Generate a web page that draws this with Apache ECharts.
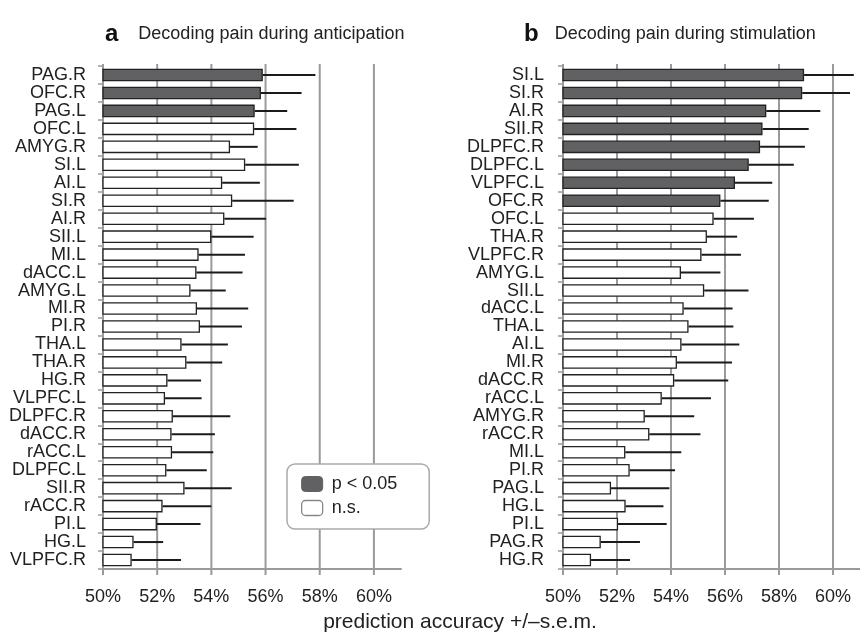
<!DOCTYPE html>
<html>
<head>
<meta charset="utf-8">
<script src="https://cdn.jsdelivr.net/npm/echarts@6/dist/echarts.min.js"></script>
<style>
  html, body { margin: 0; padding: 0; background: #fff; }
  #chart { width: 860px; height: 632px; }
</style>
</head>
<body>
<div id="chart"></div>
<script>
// panel a: anticipation
const regionsA = ["PAG.R", "OFC.R", "PAG.L", "OFC.L", "AMYG.R", "SI.L", "AI.L", "SI.R", "AI.R", "SII.L",
  "MI.L", "dACC.L", "AMYG.L", "MI.R", "PI.R", "THA.L", "THA.R", "HG.R", "VLPFC.L", "DLPFC.R",
  "dACC.R", "rACC.L", "DLPFC.L", "SII.R", "rACC.R", "PI.L", "HG.L", "VLPFC.R"];
const accA = [55.90, 55.83, 55.60, 55.58, 54.69, 55.25, 54.40, 54.77, 54.48, 54.00,
  53.53, 53.45, 53.23, 53.47, 53.58, 52.90, 53.08, 52.38, 52.29, 52.58,
  52.53, 52.55, 52.34, 53.01, 52.20, 51.99, 51.13, 51.06];
const semA = [1.94, 1.50, 1.20, 1.56, 1.02, 1.98, 1.39, 2.27, 1.54, 1.56,
  1.71, 1.70, 1.30, 1.89, 1.55, 1.71, 1.32, 1.24, 1.35, 2.12,
  1.60, 1.52, 1.49, 1.74, 1.80, 1.61, 1.09, 1.82];
const sigA = [1, 1, 1, 0, 0, 0, 0, 0, 0, 0, 0, 0, 0, 0, 0, 0, 0, 0, 0, 0, 0, 0, 0, 0, 0, 0, 0, 0];

// panel b: stimulation
const regionsB = ["SI.L", "SI.R", "AI.R", "SII.R", "DLPFC.R", "DLPFC.L", "VLPFC.L", "OFC.R", "OFC.L", "THA.R",
  "VLPFC.R", "AMYG.L", "SII.L", "dACC.L", "THA.L", "AI.L", "MI.R", "dACC.R", "rACC.L", "AMYG.R",
  "rACC.R", "MI.L", "PI.R", "PAG.L", "HG.L", "PI.L", "PAG.R", "HG.R"];
const accB = [58.93, 58.86, 57.53, 57.39, 57.30, 56.88, 56.37, 55.83, 55.58, 55.33,
  55.13, 54.37, 55.23, 54.47, 54.65, 54.39, 54.22, 54.12, 53.66, 53.03,
  53.20, 52.31, 52.47, 51.78, 52.32, 52.04, 51.40, 51.04];
const semB = [1.84, 1.77, 2.00, 1.71, 1.66, 1.67, 1.38, 1.79, 1.49, 1.12,
  1.46, 1.46, 1.64, 1.81, 1.66, 2.14, 2.04, 2.00, 1.82, 1.83,
  1.89, 2.07, 1.68, 2.16, 1.40, 1.80, 1.45, 1.44];
const sigB = [1, 1, 1, 1, 1, 1, 1, 1, 0, 0, 0, 0, 0, 0, 0, 0, 0, 0, 0, 0, 0, 0, 0, 0, 0, 0, 0, 0];

const xTicks = [50, 52, 54, 56, 58, 60];

const FONT = "'Liberation Sans', Arial, sans-serif";
const DARK = "#616163";
const GRAY = "#9a9a9a";

function xAxisFor(idx) {
  return {
    type: "value",
    gridIndex: idx,
    min: 50,
    max: 61,
    interval: 2,
    axisLine: { show: true, lineStyle: { color: GRAY, width: 2 } },
    axisTick: { show: false },
    axisLabel: {
      customValues: xTicks,
      formatter: (v) => v + "%",
      fontFamily: FONT, fontSize: 18, color: "#222", margin: 19
    },
    splitLine: { show: false }
  };
}

function yAxisFor(idx, names, margin) {
  return {
    type: "category",
    gridIndex: idx,
    data: names,
    inverse: true,
    axisLine: { show: true, lineStyle: { color: GRAY, width: 2 } },
    axisTick: { show: true, length: 5, lineStyle: { color: GRAY, width: 1.5 } },
    axisLabel: { fontFamily: FONT, fontSize: 18, color: "#222", margin: margin, interval: 0 }
  };
}

// vertical grid lines (with a short tick below the axis) at each tick value
function gridLinesFor(idx) {
  return {
    type: "custom",
    xAxisIndex: idx,
    yAxisIndex: idx,
    z: 1,
    silent: true,
    clip: false,
    encode: { x: 0 },
    data: xTicks.map((v) => [v]),
    renderItem: function (params, api) {
      const cs = params.coordSys;
      const x = api.coord([api.value(0), 0])[0];
      return {
        type: "line",
        shape: { x1: x, y1: cs.y - 2, x2: x, y2: cs.y + cs.height + 6 },
        style: { stroke: GRAY, lineWidth: 2 }
      };
    }
  };
}

function barsFor(idx, acc, sig) {
  const common = {
    type: "bar",
    xAxisIndex: idx,
    yAxisIndex: idx,
    barGap: "-100%",
    barCategoryGap: "30%",
    z: 2
  };
  return [
    Object.assign({}, common, {
      name: "p < 0.05",
      itemStyle: { color: DARK, borderColor: "#222", borderWidth: 1.3 },
      data: acc.map((v, i) => (sig[i] ? v : "-"))
    }),
    Object.assign({}, common, {
      name: "n.s.",
      itemStyle: { color: "#fff", borderColor: "#222", borderWidth: 1.3 },
      data: acc.map((v, i) => (sig[i] ? "-" : v))
    })
  ];
}

function errFor(idx, acc, sem) {
  return {
    type: "custom",
    xAxisIndex: idx,
    yAxisIndex: idx,
    z: 3,
    silent: true,
    encode: { x: [0, 1], y: 2 },
    data: acc.map((v, i) => [v, v + sem[i], i]),
    renderItem: function (params, api) {
      const p0 = api.coord([api.value(0), api.value(2)]);
      const p1 = api.coord([api.value(1), api.value(2)]);
      return {
        type: "line",
        shape: { x1: p0[0], y1: p0[1], x2: p1[0], y2: p1[1] },
        style: { stroke: "#1a1a1a", lineWidth: 2 }
      };
    }
  };
}

const chart = echarts.init(document.getElementById("chart"), null, { renderer: "canvas" });

chart.setOption({
  animation: false,
  backgroundColor: "#fff",
  title: [
    {
      left: 100, top: 17,
      text: "{b|a}{t|Decoding pain during anticipation}",
      textStyle: {
        fontWeight: "normal",
        rich: {
          b: { fontFamily: FONT, fontSize: 24, fontWeight: "bold", color: "#111", padding: [0, 20, 0, 0] },
          t: { fontFamily: FONT, fontSize: 18, fontWeight: "normal", color: "#222" }
        }
      }
    },
    {
      left: 519, top: 17,
      text: "{b|b}{t|Decoding pain during stimulation}",
      textStyle: {
        fontWeight: "normal",
        rich: {
          b: { fontFamily: FONT, fontSize: 24, fontWeight: "bold", color: "#111", padding: [0, 16, 0, 0] },
          t: { fontFamily: FONT, fontSize: 18, fontWeight: "normal", color: "#222" }
        }
      }
    }
  ],
  legend: {
    orient: "vertical",
    left: 287,
    top: 464,
    padding: [11, 32, 12, 14],
    itemGap: 6,
    itemWidth: 21,
    itemHeight: 15,
    icon: "roundRect",
    backgroundColor: "#fff",
    borderColor: "#aaa",
    borderWidth: 1.5,
    borderRadius: 8,
    textStyle: { fontFamily: FONT, fontSize: 18, color: "#222", padding: [0, 0, 0, 4] },
    data: [
      { name: "p < 0.05", itemStyle: { color: DARK, borderColor: DARK, borderWidth: 1 } },
      { name: "n.s.", itemStyle: { color: "#fff", borderColor: "#888", borderWidth: 1.3 } }
    ]
  },
  grid: [
    { left: 103, top: 66, width: 298, height: 503, containLabel: false },
    { left: 563, top: 66, width: 298, height: 503, containLabel: false }
  ],
  xAxis: [xAxisFor(0), xAxisFor(1)],
  yAxis: [yAxisFor(0, regionsA, 17), yAxisFor(1, regionsB, 19)],
  series: [
    gridLinesFor(0),
    ...barsFor(0, accA, sigA),
    errFor(0, accA, semA),
    gridLinesFor(1),
    ...barsFor(1, accB, sigB),
    errFor(1, accB, semB)
  ],
  graphic: [
    {
      type: "text",
      x: 460,
      y: 622,
      style: {
        text: "prediction accuracy +/\u2013s.e.m.",
        fontFamily: FONT, fontSize: 21, fill: "#222",
        align: "center", verticalAlign: "middle"
      }
    }
  ]
});
</script>
</body>
</html>
